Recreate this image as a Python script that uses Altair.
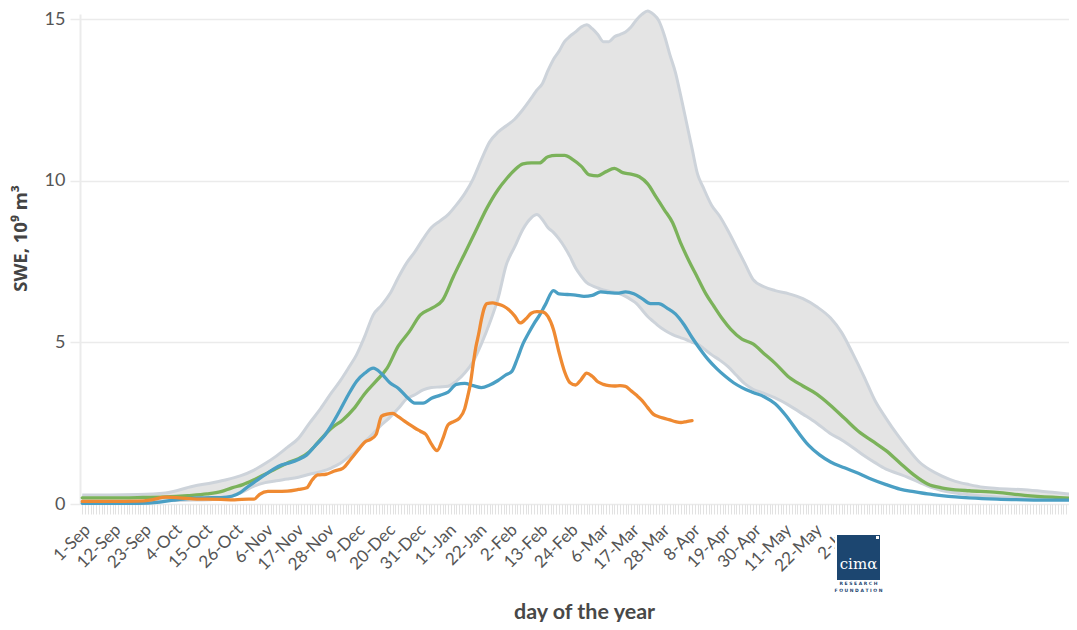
import altair as alt
import pandas as pd

# ---------------- data ----------------
tick_labels = ["1-Sep", "12-Sep", "23-Sep", "4-Oct", "15-Oct", "26-Oct", "6-Nov",
               "17-Nov", "28-Nov", "9-Dec", "20-Dec", "31-Dec", "11-Jan", "22-Jan",
               "2-Feb", "13-Feb", "24-Feb", "6-Mar", "17-Mar", "28-Mar", "8-Apr",
               "19-Apr", "30-Apr", "11-May", "22-May", "2-Jun"]

band_day = [0, 10, 20, 30, 40, 47, 52, 57, 62, 66, 70, 74, 78, 82, 86, 90, 93, 96, 99, 102,
            105, 108, 111, 114, 117, 120, 123, 126, 129, 132, 135, 138, 141, 144, 147, 150,
            153, 156, 159, 162, 164, 166, 168, 170, 172, 174, 176, 178, 180, 182, 184, 186,
            188, 190, 192, 194, 196, 198, 200, 202, 204, 206, 208, 210, 212, 214, 216, 218,
            220, 222, 224, 227, 230, 233, 236, 239, 242, 246, 250, 255, 260, 265, 270, 274,
            278, 282, 286, 290, 294, 298, 302, 306, 310, 315, 320, 325, 330, 340, 350, 360]
band_max = [0.28, 0.28, 0.29, 0.34, 0.55, 0.66, 0.75, 0.87, 1.05, 1.25, 1.48, 1.75, 2.03, 2.5,
            2.95, 3.45, 3.8, 4.2, 4.62, 5.2, 5.85, 6.15, 6.5, 7.0, 7.45, 7.8, 8.2, 8.55, 8.75,
            8.95, 9.25, 9.6, 10.05, 10.65, 11.2, 11.5, 11.7, 11.9, 12.2, 12.55, 12.8, 13.0,
            13.4, 13.75, 14.0, 14.3, 14.47, 14.6, 14.75, 14.82, 14.7, 14.52, 14.3, 14.3, 14.45,
            14.52, 14.6, 14.75, 14.98, 15.15, 15.25, 15.15, 14.95, 14.5, 13.9, 13.35, 12.6,
            11.8, 11.0, 10.2, 9.8, 9.25, 8.9, 8.45, 7.95, 7.45, 6.95, 6.72, 6.6, 6.5, 6.35,
            6.1, 5.75, 5.3, 4.65, 3.95, 3.2, 2.65, 2.15, 1.7, 1.3, 1.05, 0.87, 0.7, 0.6, 0.52,
            0.48, 0.44, 0.36, 0.28]
band_min = [0.07, 0.07, 0.08, 0.1, 0.12, 0.14, 0.2, 0.34, 0.55, 0.66, 0.72, 0.77, 0.83, 0.92,
            1.0, 1.12, 1.25, 1.45, 1.65, 1.93, 2.18, 2.45, 2.68, 2.95, 3.25, 3.38, 3.53, 3.6,
            3.62, 3.64, 3.8, 4.05, 4.4, 4.95, 5.6, 6.35, 7.4, 7.95, 8.5, 8.85, 8.95, 8.8, 8.55,
            8.4, 8.2, 7.95, 7.65, 7.3, 7.05, 6.85, 6.75, 6.68, 6.62, 6.58, 6.55, 6.5, 6.42,
            6.32, 6.2, 6.0, 5.8, 5.65, 5.5, 5.38, 5.28, 5.2, 5.14, 5.08, 5.0, 4.95, 4.82, 4.62,
            4.45, 4.25, 3.98, 3.72, 3.55, 3.42, 3.28, 3.05, 2.78, 2.5, 2.17, 1.98, 1.75, 1.5,
            1.28, 1.08, 0.95, 0.82, 0.67, 0.52, 0.42, 0.34, 0.29, 0.25, 0.22, 0.2, 0.18, 0.17]

green_day = [0, 10, 20, 30, 38, 45, 50, 54, 58, 62, 66, 70, 74, 78, 82, 86, 90, 94, 98, 102,
             106, 110, 114, 118, 122, 126, 130, 134, 138, 142, 146, 150, 153, 156, 159, 162,
             165, 168, 171, 174, 177, 180, 183, 186, 189, 192, 195, 198, 201, 204, 207, 210,
             213, 216, 219, 222, 225, 228, 231, 234, 238, 242, 246, 250, 255, 260, 265, 270,
             275, 280, 285, 290, 295, 300, 305, 310, 315, 320, 330, 340, 350, 360]
green_swe = [0.19, 0.19, 0.2, 0.22, 0.26, 0.31, 0.38, 0.5, 0.6, 0.75, 0.92, 1.1, 1.27, 1.4,
             1.62, 2.0, 2.35, 2.6, 2.95, 3.42, 3.8, 4.2, 4.88, 5.33, 5.85, 6.05, 6.3, 7.05,
             7.75, 8.45, 9.15, 9.72, 10.05, 10.33, 10.52, 10.55, 10.55, 10.74, 10.78, 10.78,
             10.65, 10.45, 10.18, 10.15, 10.28, 10.38, 10.25, 10.2, 10.12, 9.9, 9.5, 9.1, 8.7,
             8.05, 7.5, 7.0, 6.5, 6.1, 5.72, 5.4, 5.1, 4.95, 4.65, 4.35, 3.92, 3.65, 3.4, 3.05,
             2.65, 2.25, 1.95, 1.65, 1.27, 0.9, 0.62, 0.5, 0.44, 0.41, 0.36, 0.27, 0.21, 0.17]

blue_day = [0, 10, 20, 28, 33, 38, 44, 50, 54, 57, 60, 63, 66, 69, 72, 75, 78, 81, 84, 87, 90,
            93, 96, 99, 102, 105, 108, 111, 114, 117, 120, 123, 126, 129, 132, 135, 138, 141,
            144, 147, 150, 153, 155, 157, 159, 161, 163, 165, 167, 170, 172, 175, 178, 181,
            184, 187, 190, 193, 196, 199, 202, 205, 208, 211, 214, 217, 220, 223, 226, 229,
            232, 235, 238, 242, 246, 250, 254, 258, 262, 266, 270, 275, 280, 285, 290, 295,
            300, 305, 310, 315, 320, 330, 340, 350, 360]
blue_swe = [0.02, 0.02, 0.02, 0.06, 0.12, 0.17, 0.19, 0.2, 0.24, 0.35, 0.55, 0.73, 0.91, 1.08,
            1.21, 1.28, 1.38, 1.52, 1.8, 2.07, 2.45, 2.9, 3.38, 3.8, 4.05, 4.2, 4.03, 3.75,
            3.58, 3.32, 3.12, 3.12, 3.27, 3.36, 3.46, 3.7, 3.73, 3.66, 3.6, 3.68, 3.82, 4.0,
            4.1, 4.5, 4.95, 5.28, 5.58, 5.84, 6.15, 6.6, 6.5, 6.48, 6.46, 6.42, 6.45, 6.56,
            6.54, 6.52, 6.56, 6.5, 6.35, 6.2, 6.2, 6.06, 5.88, 5.56, 5.15, 4.78, 4.45, 4.18,
            3.95, 3.75, 3.6, 3.45, 3.32, 3.1, 2.72, 2.25, 1.82, 1.52, 1.3, 1.12, 0.95, 0.76,
            0.6, 0.46, 0.38, 0.31, 0.26, 0.22, 0.19, 0.15, 0.13, 0.12, 0.12]

orange_day = [0, 10, 20, 25, 30, 35, 40, 45, 50, 55, 60, 62, 64, 67, 70, 74, 78, 81, 83, 85,
              88, 91, 94, 97, 100, 102, 104, 106, 108, 110, 112, 114, 116, 118, 120, 122, 124,
              126, 128, 130, 132, 134, 136, 138, 139, 140, 141, 142, 143, 144, 145, 146, 148,
              150, 152, 154, 156, 158, 160, 162, 164, 166, 168, 170, 172, 174, 176, 178, 180,
              182, 184, 186, 188, 190, 192, 194, 196, 198, 200, 202, 204, 206, 208, 210, 212,
              214, 216, 218, 220]
orange_swe = [0.08, 0.08, 0.09, 0.13, 0.21, 0.19, 0.16, 0.15, 0.14, 0.13, 0.15, 0.15, 0.3,
              0.39, 0.39, 0.4, 0.45, 0.5, 0.75, 0.9, 0.92, 1.02, 1.1, 1.4, 1.72, 1.92, 2.0,
              2.15, 2.72, 2.78, 2.8, 2.7, 2.58, 2.46, 2.35, 2.25, 2.15, 1.85, 1.65, 2.0, 2.45,
              2.55, 2.65, 2.95, 3.3, 3.7, 4.3, 4.85, 5.25, 5.7, 6.05, 6.2, 6.22, 6.18, 6.12,
              6.0, 5.82, 5.6, 5.72, 5.9, 5.95, 5.94, 5.8, 5.4, 4.7, 4.1, 3.75, 3.68, 3.85, 4.05,
              3.95, 3.78, 3.7, 3.66, 3.65, 3.66, 3.64, 3.5, 3.36, 3.2, 2.98, 2.78, 2.7, 2.65,
              2.6, 2.55, 2.52, 2.55, 2.58]

# ---------------- chart ----------------
FONT = "Lato"
band_df = pd.DataFrame({"day": band_day, "lo": band_min, "hi": band_max})
green_df = pd.DataFrame({"day": green_day, "swe": green_swe})
blue_df = pd.DataFrame({"day": blue_day, "swe": blue_swe})
orange_df = pd.DataFrame({"day": orange_day, "swe": orange_swe})

label_arr = "[" + ",".join("'" + t + "'" for t in tick_labels) + "]"
label_expr = ("(datum.value % 11 === 0 && datum.value / 11 < " + str(len(tick_labels))
              + ") ? " + label_arr + "[datum.value / 11] : ''")

x_scale = alt.Scale(domain=[-0.8, 356], nice=False, zero=False)
y_scale = alt.Scale(domain=[0, 15.155], nice=False)

x_axis = alt.Axis(
    title="day of the year", values=list(range(0, 357)), tickCount=1000,
    labelExpr=label_expr,
    labelOverlap=False, labelBound=False, labelFlush=False,
    labelAngle=-45, labelAlign="right", labelBaseline="middle",
    labelFont=FONT, labelFontSize=17, labelColor="#555555",
    labelPadding=13, labelOffset=5,
    grid=False, domain=False, ticks=True, tickSize=10, tickColor="#e2e2e2", tickWidth=1,
    titleFont=FONT, titleFontSize=21.5, titleFontWeight="bold", titleColor="#484848",
    titleX=504, titleY=108, titleAlign="center", titleBaseline="middle",
)
y_axis = alt.Axis(
    title="SWE, 10⁹ m³", values=[0, 5, 10, 15], format="d",
    labelFont=FONT, labelFontSize=18, labelColor="#555555", labelPadding=5,
    grid=True, gridColor="#ebebeb", gridWidth=1.5,
    domain=True, domainColor="#ebebeb", domainWidth=2,
    ticks=True, tickSize=10, tickColor="#ebebeb", tickWidth=1.5,
    titleFont="Noto Sans", titleFontSize=18.5, titleFontWeight="bold", titleColor="#444444",
    titleX=-60, titleY=224, titleAlign="center", titleBaseline="middle", titleAngle=-90,
)

X = alt.X("day:Q", scale=x_scale)

band = alt.Chart(band_df).mark_area(
    color="#e4e4e4", interpolate="monotone", clip=False, opacity=1
).encode(
    x=alt.X("day:Q", scale=x_scale, axis=x_axis),
    y=alt.Y("lo:Q", scale=y_scale, axis=y_axis),
    y2="hi:Q",
)
hi_line = alt.Chart(band_df).mark_line(
    color="#cdd3da", strokeWidth=3, interpolate="monotone", clip=False
).encode(x=X, y=alt.Y("hi:Q", scale=y_scale))
lo_line = alt.Chart(band_df).mark_line(
    color="#cdd3da", strokeWidth=3, interpolate="monotone", clip=False
).encode(x=X, y=alt.Y("lo:Q", scale=y_scale))


def series(df, color):
    return alt.Chart(df).mark_line(
        color=color, strokeWidth=3.3, interpolate="monotone", clip=False,
        strokeCap="round", strokeJoin="round"
    ).encode(x=X, y=alt.Y("swe:Q", scale=y_scale))


green = series(green_df, "#7bb25a")
blue = series(blue_df, "#4a9fc4")
orange = series(orange_df, "#ef8a32")

# logo (decoration below the axis): white backing, navy box, texts
logo_df = pd.DataFrame({"k": [0]})
logo_bg = alt.Chart(logo_df).mark_rect(color="white", clip=False).encode(
    x=alt.value(755), x2=alt.value(803), y=alt.value(503), y2=alt.value(582)
)
logo_box = alt.Chart(logo_df).mark_rect(color="#1c4670", clip=False).encode(
    x=alt.value(757), x2=alt.value(800), y=alt.value(521), y2=alt.value(566)
)
logo_mark = alt.Chart(logo_df).mark_rect(color="white", clip=False).encode(
    x=alt.value(796), x2=alt.value(799), y=alt.value(522), y2=alt.value(525)
)
logo_text = alt.Chart(logo_df).mark_text(
    color="white", font="DejaVu Serif", fontSize=15, align="center", baseline="middle",
    clip=False
).encode(x=alt.value(778.5), y=alt.value(550), text=alt.value("cimα"))
logo_sub1 = alt.Chart(logo_df).mark_text(
    color="#1c4670", font="DejaVu Sans", fontSize=4.5, fontWeight="bold",
    align="center", baseline="middle", clip=False
).encode(x=alt.value(778.5), y=alt.value(570), text=alt.value("R E S E A R C H"))
logo_sub2 = alt.Chart(logo_df).mark_text(
    color="#1c4670", font="DejaVu Sans", fontSize=4.5, fontWeight="bold",
    align="center", baseline="middle", clip=False
).encode(x=alt.value(778.5), y=alt.value(577), text=alt.value("F O U N D A T I O N"))

chart = alt.layer(
    band, hi_line, lo_line, green, blue, orange,
    logo_bg, logo_box, logo_mark, logo_text, logo_sub1, logo_sub2
).properties(
    width=989, height=490,
    autosize=alt.AutoSizeParams(type="none"),
    padding={"left": 72, "top": 6, "right": 0, "bottom": 118},
    background="white",
).configure_view(stroke=None)

chart.save("out.html", embed_options={"renderer": "svg", "actions": False})
